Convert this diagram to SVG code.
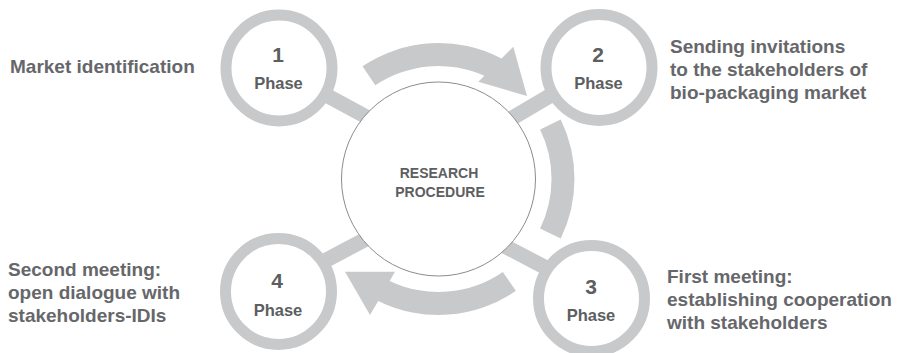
<svg xmlns="http://www.w3.org/2000/svg" width="905" height="353" viewBox="0 0 905 353">
  <style>
    .bar { stroke: #c8c9ca; stroke-width: 15; fill: none; }
    .band { fill: #c8c9ca; stroke: none; }
    .ring { fill: #ffffff; stroke: #c8c9ca; stroke-width: 11; }
    .hub { fill: #ffffff; stroke: #8c8c8c; stroke-width: 1; }
    .num { font-family: "Liberation Sans", Arial, sans-serif; font-weight: bold; font-size: 21px; fill: #5d5e60; text-anchor: middle; }
    .ph { font-family: "Liberation Sans", Arial, sans-serif; font-weight: bold; font-size: 16.5px; fill: #5d5e60; text-anchor: middle; }
    .hubt { font-family: "Liberation Sans", Arial, sans-serif; font-weight: bold; font-size: 14px; fill: #5d5e60; text-anchor: middle; }
    .lbl { font-family: "Liberation Sans", Arial, sans-serif; font-weight: bold; font-size: 19px; fill: #66676a; }
  </style>
  <rect width="905" height="353" fill="#ffffff"/>
  <g id="connectors">
    <line class="bar" x1="300" y1="81" x2="400" y2="135"/>
    <line class="bar" x1="470" y1="143" x2="575" y2="81"/>
    <line class="bar" x1="470" y1="228" x2="575" y2="283"/>
    <line class="bar" x1="300" y1="274" x2="400" y2="221"/>
    <path class="band" d="M 362.5,66.3 A 136 136 0 0 1 501.5,58.5 L 513.3,46.7 L 527,96 L 478.3,81.7 L 484.3,75.7 A 113 113 0 0 0 375.3,85.3 Z"/>
    <path class="band" d="M 540.1,129.5 L 560.7,119.4 A 136 136 0 0 1 560.7,238.6 L 540.1,228.5 A 113 113 0 0 0 540.1,129.5 Z"/>
    <path class="band" d="M 502.8,271.9 L 515.9,290.8 A 136 136 0 0 1 378.2,300.9 L 370,315 L 345,271.7 L 395,271.7 L 389.7,280.9 A 113 113 0 0 0 502.8,271.9 Z"/>
  </g>
  <g id="hub">
    <circle class="hub" cx="438.5" cy="179" r="97"/>
    <text class="hubt" x="439" y="178">RESEARCH</text>
    <text class="hubt" x="440" y="197">PROCEDURE</text>
  </g>
  <g id="phase1">
    <circle class="ring" cx="279" cy="68" r="53"/>
    <text class="num" x="278" y="62">1</text>
    <text class="ph" x="278.5" y="89">Phase</text>
  </g>
  <g id="phase2">
    <circle class="ring" cx="599" cy="67.5" r="53"/>
    <text class="num" x="598" y="62">2</text>
    <text class="ph" x="598.5" y="89">Phase</text>
  </g>
  <g id="phase3">
    <circle class="ring" cx="591.5" cy="298.5" r="53"/>
    <text class="num" x="591" y="294">3</text>
    <text class="ph" x="591" y="321">Phase</text>
  </g>
  <g id="phase4">
    <circle class="ring" cx="278.5" cy="291.5" r="53"/>
    <text class="num" x="277" y="288">4</text>
    <text class="ph" x="278" y="316">Phase</text>
  </g>
  <g id="label1">
    <text class="lbl" x="10" y="72.7">Market identification</text>
  </g>
  <g id="label2">
    <text class="lbl" x="670" y="53">Sending invitations</text>
    <text class="lbl" x="670" y="76">to the stakeholders of</text>
    <text class="lbl" x="670" y="99">bio-packaging market</text>
  </g>
  <g id="label3">
    <text class="lbl" x="667" y="283">First meeting:</text>
    <text class="lbl" x="667" y="306">establishing cooperation</text>
    <text class="lbl" x="667" y="329">with stakeholders</text>
  </g>
  <g id="label4">
    <text class="lbl" x="8" y="276">Second meeting:</text>
    <text class="lbl" x="8" y="299">open dialogue with</text>
    <text class="lbl" x="8" y="322">stakeholders-IDIs</text>
  </g>
</svg>
